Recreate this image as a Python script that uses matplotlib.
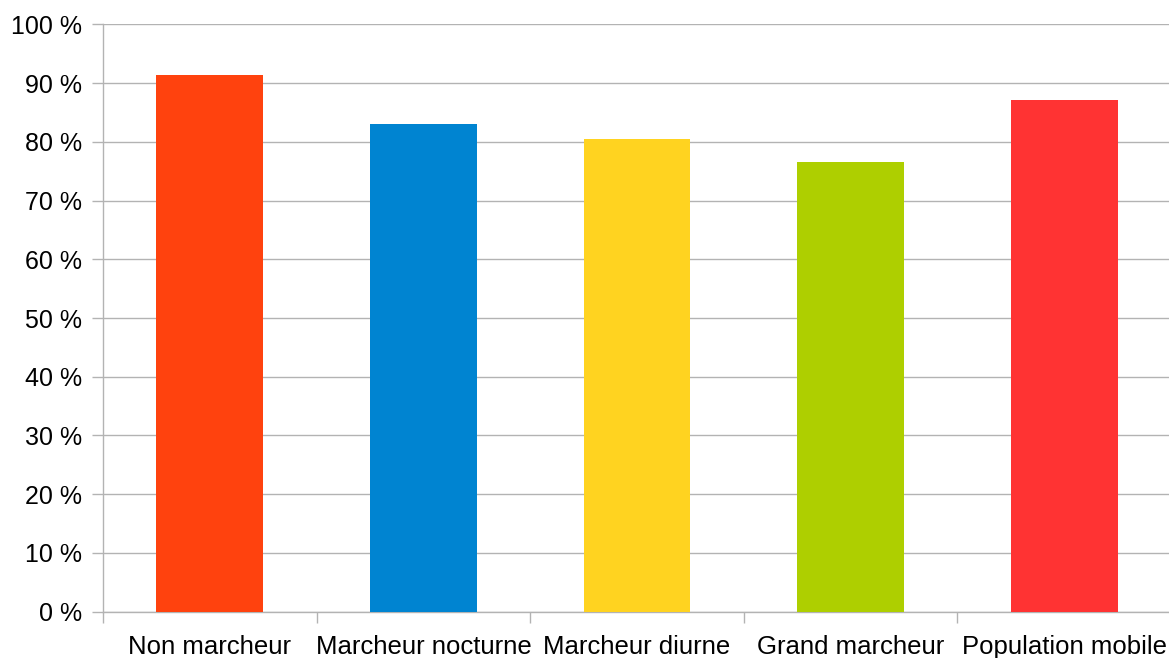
import numpy as np
import matplotlib
matplotlib.use("Agg")
from matplotlib import pyplot as plt
from matplotlib.ticker import FixedLocator

categories = ["Non marcheur", "Marcheur nocturne", "Marcheur diurne", "Grand marcheur", "Population mobile"]
values = [91.4, 83.1, 80.5, 76.6, 87.2]
colors = ["#ff420e", "#0084d1", "#ffd320", "#aecf00", "#ff3333"]
yticks = list(range(0, 101, 10))

plt.rcParams['font.family'] = ['Liberation Sans', 'DejaVu Sans']

fig = plt.figure(figsize=(11.69, 6.58), dpi=100)
ax = fig.add_axes([0.0881, 0.0704, 0.9136, 0.8925])

x = np.arange(len(categories))
ax.bar(x, values, width=0.5, color=colors, zorder=3)

ax.set_xlim(-0.5, 4.5)
ax.set_ylim(0, 100)

grid_color = "#b3b3b3"
ax.set_yticks(yticks)
ax.set_yticklabels([f"{t} %" for t in yticks])
ax.yaxis.grid(True, color=grid_color, linewidth=1, zorder=0)

ax.set_xticks(x)
ax.set_xticklabels(categories)
ax.xaxis.set_minor_locator(FixedLocator([-0.5, 0.5, 1.5, 2.5, 3.5]))
ax.tick_params(axis='x', which='major', length=0, pad=17, labelsize=18.5)
ax.tick_params(axis='x', which='minor', length=8, width=1, color=grid_color)
ax.tick_params(axis='y', length=8, width=1, color=grid_color, pad=7, labelsize=18)

for s in ["top", "right"]:
    ax.spines[s].set_visible(False)
for s in ["left", "bottom"]:
    ax.spines[s].set_color(grid_color)
    ax.spines[s].set_linewidth(1)

fig.savefig("out.png", dpi=100)
